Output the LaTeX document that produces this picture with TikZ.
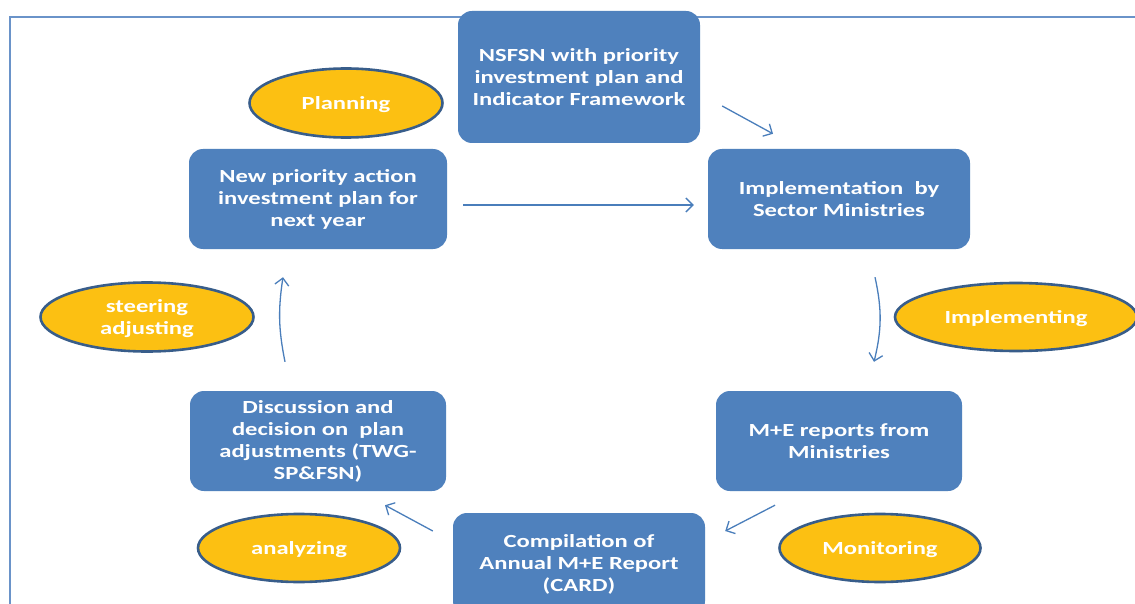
\documentclass[tikz,border=0pt]{standalone}
\usepackage{fontspec}
\setmainfont{Carlito}[FakeStretch=1.33]
\usetikzlibrary{arrows.meta,shapes.geometric}
\definecolor{boxblue}{HTML}{4F81BD}
\definecolor{goldfill}{RGB}{252,192,18}
\definecolor{rimblue}{HTML}{385D8A}
\definecolor{arrowblue}{HTML}{4A7EBB}
\definecolor{framecol}{HTML}{6A93C9}
\begin{document}
\begin{tikzpicture}[x=1pt,y=-1pt,
  stage/.style={rectangle,rounded corners=14pt,fill=boxblue,text=white,
    font=\fontsize{18.5}{22}\selectfont\bfseries,align=center,inner sep=0pt},
  phase/.style={ellipse,fill=goldfill,draw=rimblue,line width=2.6pt,text=white,
    font=\fontsize{18.5}{22}\selectfont\bfseries,align=center,inner sep=0pt,text depth=0pt},
  flow/.style={draw=arrowblue,line width=1.3pt,-{Straight Barb[length=7pt,width=14pt]}}]
\useasboundingbox (0,0) rectangle (1135,604);
\clip (0,0) rectangle (1135,604);
\fill[white] (0,0) rectangle (1135,604);
\draw[framecol,line width=1.6pt] (10,620) -- (10,17) -- (1140,17);

\node[stage,minimum width=242pt,minimum height=132pt] (nsfsn) at (579,77)
  {NSFSN with priority\\investment plan and\\Indicator Framework};
\node[stage,minimum width=262pt,minimum height=100pt] (impl) at (839,199)
  {Implementation\ \ by\\Sector Ministries};
\node[stage,minimum width=246pt,minimum height=100pt] (me) at (839,441)
  {M+E reports from\\Ministries};
\node[stage,minimum width=252pt,minimum height=102pt] (comp) at (579,564)
  {Compilation of\\Annual M+E Report\\(CARD)};
\node[stage,minimum width=256pt,minimum height=100pt] (disc) at (318,441)
  {Discussion and\\decision on\ \ plan\\adjustments (TWG-\\SP\&FSN)};
\node[stage,minimum width=258pt,minimum height=100pt] (newp) at (318,199)
  {New priority action\\investment plan for\\next year};

\node[phase,minimum width=193pt,minimum height=69pt] (plan) at (346,103) {Planning};
\node[phase,minimum width=242pt,minimum height=68pt] (implg) at (1016,317) {Implementing};
\node[phase,minimum width=213pt,minimum height=69pt] (steer) at (147,317) {steering\\adjusting};
\node[phase,minimum width=202pt,minimum height=68pt] (anal) at (299,548) {analyzing};
\node[phase,minimum width=201pt,minimum height=68pt] (mon) at (880,548) {Monitoring};

\draw[flow] ([shift={(22,29)}]nsfsn.east) -- ([shift={(-66,-15)}]impl.north);
\draw[flow] ([shift={(16,6)}]newp.east) -- ([shift={(-14,6)}]impl.west);
\draw[flow] ([shift={(36,28)}]impl.south) to[bend left=13] ([shift={(35,-29)}]me.north);
\draw[flow] ([shift={(-64,14)}]me.south) -- ([shift={(20,-33)}]comp.east);
\draw[flow] ([shift={(-20,-33)}]comp.west) -- ([shift={(67,14)}]disc.south);
\draw[flow] ([shift={(-33,-29)}]disc.north) to[bend left=10] ([shift={(-35,28)}]newp.south);
\end{tikzpicture}
\end{document}
